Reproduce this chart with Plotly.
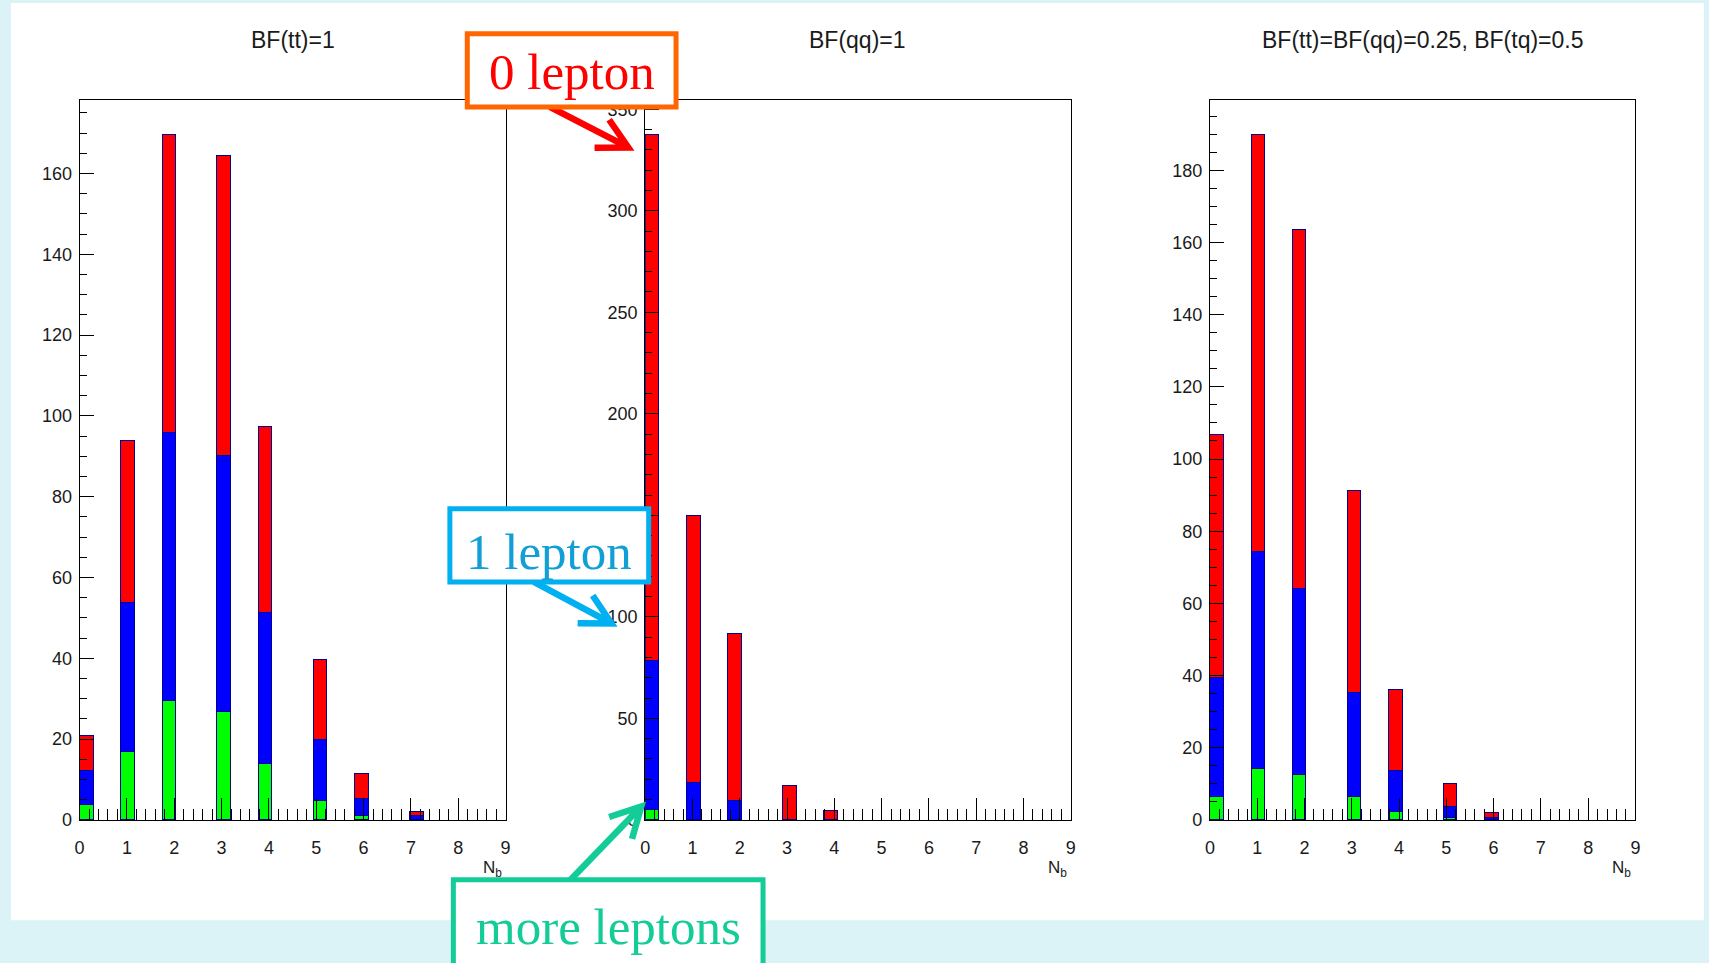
import math
import plotly.graph_objects as go

W, H = 1709, 963

# N_b histogram binning: 31 bins on [0, 9]
NBINS, XMIN, XMAX = 31, 0.0, 9.0
BIN_W = (XMAX - XMIN) / NBINS

nb = [0, 1, 2, 3, 4, 5, 6, 7]

titles = ["BF(tt)=1", "BF(qq)=1", "BF(tt)=BF(qq)=0.25, BF(tq)=0.5"]

# events per N_b, split by lepton multiplicity (stack order: more, one, zero)
tt_more = [3.7, 17.0, 29.6, 26.8, 14.0, 4.8, 1.1, 0.0]
tt_one = [8.5, 36.8, 66.3, 63.5, 37.4, 15.1, 4.2, 1.0]
tt_zero = [8.7, 40.0, 73.8, 74.2, 45.9, 19.7, 6.2, 1.0]

qq_more = [5.2, 0.0, 0.0, 0.0, 0.0, 0.0, 0.0, 0.0]
qq_one = [73.4, 18.5, 9.6, 0.0, 0.0, 0.0, 0.0, 0.0]
qq_zero = [259.1, 131.5, 82.0, 16.7, 4.4, 0.0, 0.0, 0.0]

mix_more = [6.5, 14.2, 12.5, 6.5, 2.3, 0.6, 0.0, 0.0]
mix_one = [33.0, 60.1, 51.6, 28.7, 11.3, 3.2, 0.8, 0.0]
mix_zero = [67.4, 115.7, 99.5, 56.2, 22.4, 6.2, 1.3, 0.0]

y_major = [20, 50, 20]
y_minor = [5, 10, 5]

panels = [
    (tt_more, tt_one, tt_zero),
    (qq_more, qq_one, qq_zero),
    (mix_more, mix_one, mix_zero),
]
fill_colors = ["#00FF00", "#0000FF", "#FF0000"]
LINE_COL = "#000099"

# pixel geometry of the page
PANEL_X = [(75, 503.5), (644, 1072), (1212, 1640)]
PANEL_Y = (101, 828.5)


def fx(px):
    return px / W


def fy(py):
    return 1 - py / H


def bin_center(n):
    lo = math.floor((n - XMIN) * NBINS / (XMAX - XMIN)) * BIN_W + XMIN
    return lo + BIN_W / 2


centers = [bin_center(n) for n in nb]

fig = go.Figure()
layout = dict(
    width=W, height=H, autosize=False,
    margin=dict(l=0, r=0, t=0, b=0),
    paper_bgcolor="#DBF3F7", plot_bgcolor="white",
    barmode="stack", showlegend=False,
    font=dict(family="Liberation Sans, Arial, sans-serif", color="#1a1a1a"),
)

tick_font = dict(family="Liberation Sans, Arial, sans-serif", size=18, color="#1a1a1a")
annotations = []

for i, comps in enumerate(panels):
    k = "" if i == 0 else str(i + 1)
    for vals, col in zip(comps, fill_colors):
        fig.add_trace(go.Bar(
            x=centers, y=[v if v > 0 else None for v in vals], width=BIN_W,
            marker=dict(color=col, line=dict(color=LINE_COL, width=1)),
            xaxis="x" + k, yaxis="y" + k, hoverinfo="skip",
        ))
    totals = [sum(t) for t in zip(*comps)]
    ymax = 1.05 * max(totals)
    x0, x1 = PANEL_X[i]
    layout["xaxis" + k] = dict(
        domain=[fx(x0), fx(x1)], range=[XMIN, XMAX], anchor="y" + k,
        tick0=0, dtick=1, ticks="inside", ticklen=22, tickwidth=1, tickcolor="black",
        minor=dict(dtick=0.2, tick0=0, ticks="inside", ticklen=11, tickwidth=1,
                   tickcolor="black", showgrid=False),
        showline=True, linecolor="black", linewidth=1, mirror=True,
        showgrid=False, zeroline=False, tickfont=tick_font, ticklabelstandoff=12,
        fixedrange=True,
    )
    layout["yaxis" + k] = dict(
        domain=[fy(PANEL_Y[1]), fy(PANEL_Y[0])], range=[0, ymax], anchor="x" + k,
        tick0=0, dtick=y_major[i], ticks="inside", ticklen=14, tickwidth=1, tickcolor="black",
        minor=dict(dtick=y_minor[i], tick0=0, ticks="inside", ticklen=7, tickwidth=1,
                   tickcolor="black", showgrid=False),
        showline=True, linecolor="black", linewidth=1, mirror=True,
        showgrid=False, zeroline=False, tickfont=tick_font, ticklabelstandoff=3,
        fixedrange=True,
    )
    # panel title
    annotations.append(dict(
        text=titles[i], xref="paper", yref="paper",
        x=fx((x0 + x1) / 2), y=fy(40), xanchor="center", yanchor="middle",
        showarrow=False, font=dict(size=23, color="#1a1a1a"),
    ))
    # axis title N_b at the right end
    annotations.append(dict(
        text="N<sub>b</sub>", xref="paper", yref="paper",
        x=fx(x1 - 2), y=fy(878), xanchor="right", yanchor="middle",
        showarrow=False, font=dict(size=17, color="#1a1a1a"),
    ))


def arrow_path(tail, tip, head_len=34, half_angle=28):
    ang = math.atan2(tip[1] - tail[1], tip[0] - tail[0])
    wings = []
    for s in (1, -1):
        a = ang + math.pi + s * math.radians(half_angle)
        wings.append((tip[0] + head_len * math.cos(a), tip[1] + head_len * math.sin(a)))

    def p(q):
        return f"{fx(q[0]):.5f},{fy(q[1]):.5f}"

    return f"M {p(tail)} L {p(tip)} M {p(wings[0])} L {p(tip)} L {p(wings[1])}"


shapes = [
    # white slide area
    dict(type="rect", xref="paper", yref="paper", layer="below",
         x0=fx(6), x1=1.0, y0=fy(930), y1=fy(3),
         fillcolor="white", line=dict(width=0)),
]

callouts = [
    # text, text colour, frame colour, box (x0, y0, x1, y1), arrow colour, arrow tail, arrow tip
    ("0 lepton", "#FF0000", "#FF6600", (465, 34, 675, 108), "#FF0000", (548, 108), (627, 149)),
    ("1 lepton", "#119FD6", "#00B0F0", (447.5, 514, 647.5, 588), "#00B0F0", (532, 588), (610, 630)),
    ("more leptons", "#14CC98", "#14CC98", (451, 889, 762.5, 985), "#14CC98", (566, 892), (640, 815)),
]
text_y = {"0 lepton": 73, "1 lepton": 558, "more leptons": 937}

for text, tcol, bcol, box, acol, tail, tip in callouts:
    shapes.append(dict(type="path", xref="paper", yref="paper", layer="above",
                       path=arrow_path(tail, tip), line=dict(color=acol, width=6.5)))
for text, tcol, bcol, box, acol, tail, tip in callouts:
    bx0, by0, bx1, by1 = box
    shapes.append(dict(type="rect", xref="paper", yref="paper", layer="above",
                       x0=fx(bx0), x1=fx(bx1), y0=fy(by1), y1=fy(by0),
                       fillcolor="white", line=dict(color=bcol, width=5)))
    annotations.append(dict(
        text=text, xref="paper", yref="paper",
        x=fx((bx0 + bx1) / 2), y=fy(text_y[text]), xanchor="center", yanchor="middle",
        showarrow=False,
        font=dict(family="Liberation Serif, Times New Roman, serif", size=51, color=tcol),
    ))

layout["shapes"] = shapes
layout["annotations"] = annotations
fig.update_layout(**layout)

fig.write_html("out.html")
